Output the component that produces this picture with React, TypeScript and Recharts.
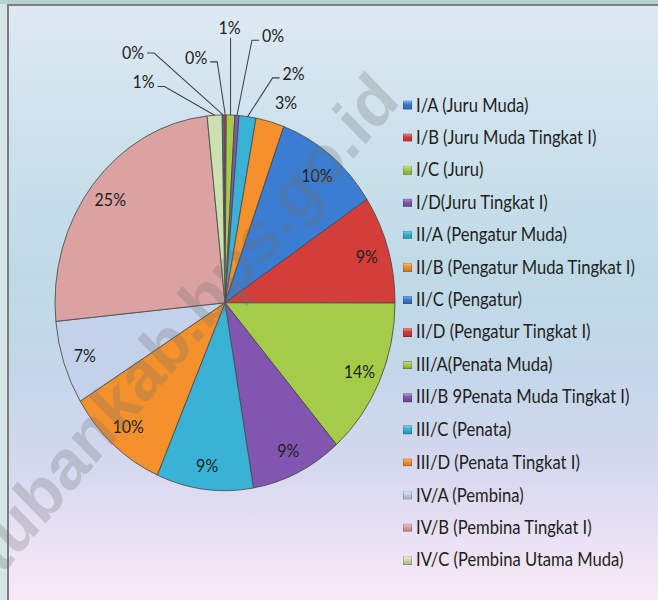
import React from 'react';
import { PieChart, Pie, Cell, Legend } from 'recharts';

const categories = [
  'I/A (Juru Muda)',
  'I/B (Juru Muda Tingkat I)',
  'I/C (Juru)',
  'I/D(Juru Tingkat I)',
  'II/A (Pengatur Muda)',
  'II/B (Pengatur Muda Tingkat I)',
  'II/C (Pengatur)',
  'II/D (Pengatur Tingkat I)',
  'III/A(Penata Muda)',
  'III/B 9Penata Muda Tingkat I)',
  'III/C (Penata)',
  'III/D (Penata Tingkat I)',
  'IV/A (Pembina)',
  'IV/B (Pembina Tingkat I)',
  'IV/C (Pembina Utama Muda)',
];

const shares = [0.2, 0.2, 0.8, 0.4, 1.6, 2.7, 10.1, 9.3, 13.6, 8.7, 9.2, 9.7, 7.2, 24.9, 1.4];

const sliceColors = [
  '#3b7dd3', '#d33e3b', '#a5cc48', '#8256b0', '#39b2d6', '#f5912c',
  '#3b7dd3', '#d33e3b', '#a5cc48', '#8256b0', '#39b2d6', '#f5912c',
  '#c3d1ea', '#dba2a2', '#cde1b0',
];

const watermarkText = 'tubankab.bps.go.id';

const data = categories.map((name, i) => ({ name, value: shares[i] }));

const K = 1.105;
const W = 658;
const H = Math.round(600 / K);
const CX = 225;
const CY = 274;
const R = 170;
const RAD = Math.PI / 180;
const FONT = 'Lato, "Open Sans", sans-serif';
const TEXT_COLOR = '#1e1e1e';

type Nudge = { dx: number; dy: number; side: 'left' | 'right' | 'top' | 'none'; ty?: number };
const smallLabelLayout: Record<number, Nudge> = {
  0: { dx: -76, dy: -56, side: 'left', ty: 5 },
  1: { dx: -15, dy: -48, side: 'left' },
  2: { dx: 0, dy: -70, side: 'top' },
  3: { dx: 22, dy: -68, side: 'right' },
  4: { dx: 32, dy: -35, side: 'right' },
  5: { dx: 16, dy: -18, side: 'none' },
  14: { dx: -57, dy: -26, side: 'left' },
};

function renderLabel(props: any) {
  const { cx, cy, midAngle, outerRadius, percent, index } = props;
  const text = `${Math.round(percent * 100)}%`;
  const cos = Math.cos(-midAngle * RAD);
  const sin = Math.sin(-midAngle * RAD);
  const nudge = smallLabelLayout[index];
  const common = { fontFamily: FONT, fontSize: 16, fill: TEXT_COLOR };
  if (!nudge) {
    const r = outerRadius * 0.87;
    return (
      <text x={cx + r * cos} y={cy + r * sin} textAnchor="middle" dominantBaseline="central" {...common}>
        {text}
      </text>
    );
  }
  const ex = cx + outerRadius * cos;
  const ey = cy + outerRadius * sin;
  const tx = ex + nudge.dx;
  const ty = ey + nudge.dy;
  const lineStyle = { stroke: '#3c3c3c', strokeWidth: 1, fill: 'none' };
  if (nudge.side === 'none') {
    return (
      <text x={tx} y={ty} textAnchor="middle" dominantBaseline="central" {...common}>
        {text}
      </text>
    );
  }
  if (nudge.side === 'top') {
    return (
      <g>
        <path d={`M${ex},${ey}L${ex},${ty}`} {...lineStyle} />
        <text x={ex - 1} y={ty - 3} textAnchor="middle" {...common}>
          {text}
        </text>
      </g>
    );
  }
  const left = nudge.side === 'left';
  const elbowX = tx + (left ? 7 : -7);
  return (
    <g>
      <path d={`M${ex},${ey}L${elbowX},${ty}L${tx},${ty}`} {...lineStyle} />
      <text
        x={left ? tx - 3 : tx + 3}
        y={ty + (nudge.ty ?? 1.5)}
        textAnchor={left ? 'end' : 'start'}
        {...common}
      >
        {text}
      </text>
    </g>
  );
}

const ROW0 = 104.5 / K;
const ROW_STEP = 32.5 / K;

function renderLegend(props: any) {
  const payload = props.payload || [];
  return (
    <div style={{ position: 'relative', width: 255, height: H }}>
      {payload.map((entry: any, i: number) => {
        const c = sliceColors[i];
        return (
          <div
            key={i}
            style={{
              position: 'absolute',
              left: 0,
              top: ROW0 + i * ROW_STEP - 10,
              height: 20,
              display: 'flex',
              alignItems: 'center',
              whiteSpace: 'nowrap',
              fontFamily: FONT,
              fontSize: 16.6,
              color: TEXT_COLOR,
            }}
          >
            <span
              style={{
                display: 'inline-block',
                width: 9,
                height: 7.5,
                marginRight: 4,
                marginTop: 1,
                background: `linear-gradient(to bottom, rgba(255,255,255,0.45), rgba(255,255,255,0) 40%, rgba(0,0,0,0.2)), ${c}`,
                boxShadow: 'inset 0 0 0 0.5px rgba(0,0,0,0.35)',
              }}
            />
            {entry.value}
          </div>
        );
      })}
    </div>
  );
}

export default function App() {
  return (
    <div
      style={{
        position: 'absolute',
        left: 0,
        top: 0,
        width: W,
        height: 600,
        overflow: 'hidden',
        background: '#d3e5e4',
      }}
    >
      <div style={{ position: 'absolute', left: 0, top: 0, width: W, height: 4, background: '#b6d1cf' }} />
      <div
        style={{
          position: 'absolute',
          left: 7,
          top: 4,
          width: W - 7,
          height: 596,
          boxSizing: 'border-box',
          borderLeft: '2px solid #7d7d7d',
          borderTop: '2px solid #7d7d7d',
          background:
            'linear-gradient(to bottom, #dfe9f4 0%, #d0e3ee 17%, #bfdae6 45%, #c4d7ea 62%, #d5d8ef 78%, #ebe2f4 90%, #f8e9f7 100%)',
        }}
      />
      <div
        style={{
          position: 'absolute',
          left: 0,
          top: 0,
          width: W,
          height: H,
          transform: `scaleY(${K})`,
          transformOrigin: '0 0',
        }}
      >
        <PieChart width={W} height={H} margin={{ top: 0, right: 0, bottom: 0, left: 0 }}>
          <Pie
            data={data}
            dataKey="value"
            nameKey="name"
            cx={CX}
            cy={CY}
            outerRadius={R}
            startAngle={91}
            endAngle={-269}
            stroke="#4a4a4a"
            strokeWidth={0.8}
            label={renderLabel}
            labelLine={false}
            isAnimationActive={false}
          >
            {data.map((d, i) => (
              <Cell key={d.name} fill={sliceColors[i]} />
            ))}
          </Pie>
          <Legend
            layout="vertical"
            align="right"
            verticalAlign="top"
            content={renderLegend}
            wrapperStyle={{ position: 'absolute', left: 403, top: 0, width: 255, height: H }}
          />
        </PieChart>
        <svg
          width={W}
          height={H}
          aria-hidden="true"
          style={{ position: 'absolute', left: 0, top: 0, pointerEvents: 'none' }}
        >
          <text
            x={385}
            y={77}
            textAnchor="end"
            dominantBaseline="central"
            transform="rotate(-47 385 77)"
            fontFamily='"Liberation Sans", Arial, sans-serif'
            fontWeight="bold"
            fontSize={64}
            fill="#6e6e6e"
            fillOpacity={0.26}
          >
            {watermarkText}
          </text>
        </svg>
      </div>
    </div>
  );
}
